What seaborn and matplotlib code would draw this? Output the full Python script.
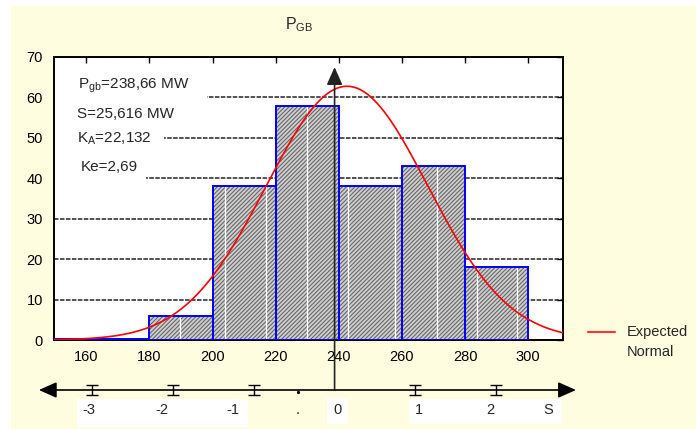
import numpy as np
import pandas as pd
import matplotlib
matplotlib.use("Agg")
import matplotlib.pyplot as plt
from matplotlib.patches import Rectangle
from matplotlib.lines import Line2D
import seaborn as sns

# ---------------- data ----------------
bin_edges = [140, 160, 180, 200, 220, 240, 260, 280, 300]
counts = [0.3, 0.3, 6, 38, 58, 38, 43, 18]
x_ticks = [160, 180, 200, 220, 240, 260, 280, 300]
y_ticks = [0, 10, 20, 30, 40, 50, 60, 70]

p_gb = 238.66          # MW, mean
s_dev = 25.616         # MW, standard deviation
curve_mean = 242.6     # centre of the fitted "Expected Normal"
curve_n = 201.5        # number of observations
bin_width = 20

sigma_steps = [-3, -2, -1, 1, 2]
lower_labels = ["-3", "-2", "-1", ".", "0", "1", "2", "S"]
lower_label_x = [160.9, 184.0, 206.5, 227.0, 239.6, 265.4, 287.9, 306.2]

white_line_x = [189.7, 204.0, 217.0, 229.8, 242.8, 257.8, 271.0, 283.8, 296.5]

stats_texts = [r"P$_{\mathregular{gb}}$=238,66 MW", "S=25,616 MW",
               r"K$_{\mathregular{A}}$=22,132", "Ke=2,69"]

# ---------------- style ----------------
sns.set_style("white")
plt.rcParams["font.family"] = ["Liberation Sans", "DejaVu Sans"]
plt.rcParams["font.size"] = 10.5
plt.rcParams["hatch.linewidth"] = 0.8

W, H = 696, 429
fig = plt.figure(figsize=(W / 100, H / 100), dpi=100, facecolor="white")
fig.add_artist(Rectangle((11 / W, 0), 1 - 11 / W, 1 - 6 / H, transform=fig.transFigure,
                         facecolor="#FFFDE0", edgecolor="none", zorder=-10))

ax_l, ax_r, ax_t, ax_b = 54, 563, 57, 340
ax = fig.add_axes([ax_l / W, 1 - ax_b / H, (ax_r - ax_l) / W, (ax_b - ax_t) / H])
ax.set_facecolor("white")

centers = [(a + b) / 2 for a, b in zip(bin_edges[:-1], bin_edges[1:])]
df = pd.DataFrame({"x": centers, "w": counts})

# hatched fill layer
sns.histplot(data=df, x="x", weights="w", bins=bin_edges, ax=ax, color="#cfcfcf",
             edgecolor="#666666", linewidth=0, alpha=1, zorder=2)
for p in ax.patches:
    p.set_hatch("////////")

# white vertical streaks inside bars
for xv in white_line_x:
    idx = np.searchsorted(bin_edges, xv) - 1
    ax.vlines(xv, 0, counts[idx], color="white", lw=0.9, zorder=2.5)

# blue outline layer
sns.histplot(data=df, x="x", weights="w", bins=bin_edges, ax=ax, fill=False,
             color="#0000ff", linewidth=1.4, zorder=3)

# expected normal curve
xc = np.linspace(149.8, 311, 300)
yc = curve_n * bin_width / (s_dev * np.sqrt(2 * np.pi)) * np.exp(-0.5 * ((xc - curve_mean) / s_dev) ** 2)
sns.lineplot(x=xc, y=yc, ax=ax, color="#ff0000", lw=1.2, zorder=4)

ax.set_xlim(149.8, 311)
ax.set_ylim(0, 70)
ax.set_xticks(x_ticks)
ax.set_yticks(y_ticks)
ax.set_xlabel("")
ax.set_ylabel("")
ax.tick_params(direction="in", length=4, width=1, top=True, right=True,
               labelsize=10.5, colors="black")
ax.tick_params(axis="y", pad=8)
ax.tick_params(axis="x", pad=7)
ax.set_axisbelow(True)
ax.yaxis.grid(True, linestyle=(0, (2.5, 0.8)), color="#444444", lw=1.3)
for sp in ax.spines.values():
    sp.set_visible(True)
    sp.set_color("black")
    sp.set_linewidth(1.4)

# white boxes hiding gridlines behind stats text
for x0, x1, y0, y1 in [(150.2, 198.2, 57.5, 62.5), (150.2, 184.7, 47.5, 52.5),
                       (150.2, 179.0, 37.5, 42.5)]:
    ax.add_patch(Rectangle((x0, y0), x1 - x0, y1 - y0, facecolor="white",
                           edgecolor="none", zorder=1.5))

text_pos = [(157.4, 62.9), (157.2, 55.9), (157.2, 49.9), (158.2, 42.9)]
for t, (tx, ty) in zip(stats_texts, text_pos):
    ax.text(tx, ty, t, fontsize=11, va="center", ha="left", zorder=6)

# ---------------- lower sigma scale ----------------
ax2 = fig.add_axes([ax_l / W, 0, (ax_r - ax_l) / W, 78 / H])
ax2.set_xlim(ax.get_xlim())
ax2.set_ylim(-1, 1)
ax2.axis("off")
ax2.patch.set_alpha(0)

ax2.annotate("", xy=(315.1, 0), xytext=(145.0, 0), annotation_clip=False,
             arrowprops=dict(arrowstyle="<|-|>,head_length=0.9,head_width=0.4",
                             color="black", lw=1.2, mutation_scale=12,
                             shrinkA=0, shrinkB=0))
sig_x = [p_gb + k * s_dev for k in sigma_steps]
ax2.errorbar(sig_x, [0] * len(sig_x), yerr=0.13, fmt="none", ecolor="black",
             elinewidth=1, capsize=4, capthick=1)
ax2.plot([227.0], [-0.06], marker="o", ms=1.3, color="black", clip_on=False)

for x0, x1, y0, y1 in [(157.1, 211.2, -0.95, -0.23), (236.2, 242.8, -0.87, -0.2),
                       (262.2, 310.6, -0.87, -0.23)]:
    ax2.add_patch(Rectangle((x0, y0), x1 - x0, y1 - y0, facecolor="white",
                            edgecolor="none", zorder=1, clip_on=False))
for lab, lx in zip(lower_labels, lower_label_x):
    ax2.text(lx, -0.52, lab, ha="center", va="center", fontsize=10.5, zorder=3,
             clip_on=False)

# vertical arrow at the mean
ax.annotate("", xy=(p_gb, 67.5), xytext=(p_gb, 39 / H), xycoords="data",
            textcoords=("data", "figure fraction"), annotation_clip=False,
            arrowprops=dict(arrowstyle="-|>,head_length=0.9,head_width=0.4",
                            color="#222222", lw=1.2, mutation_scale=12,
                            shrinkA=0, shrinkB=0), zorder=5)

# title
fig.text(285 / W, 1 - 25 / H, r"P$_{\mathregular{GB}}$", fontsize=11.5, va="center", ha="left")

# legend (manual)
fig.add_artist(Line2D([588 / W, 615 / W], [1 - 331.7 / H] * 2, color="#ff3333", lw=1.5))
fig.text(627 / W, 1 - 331.7 / H, "Expected", fontsize=10.5, va="center", ha="left")
fig.text(627 / W, 1 - 352 / H, "Normal", fontsize=10.5, va="center", ha="left")

fig.savefig("out.png", dpi=100, facecolor=fig.get_facecolor())
